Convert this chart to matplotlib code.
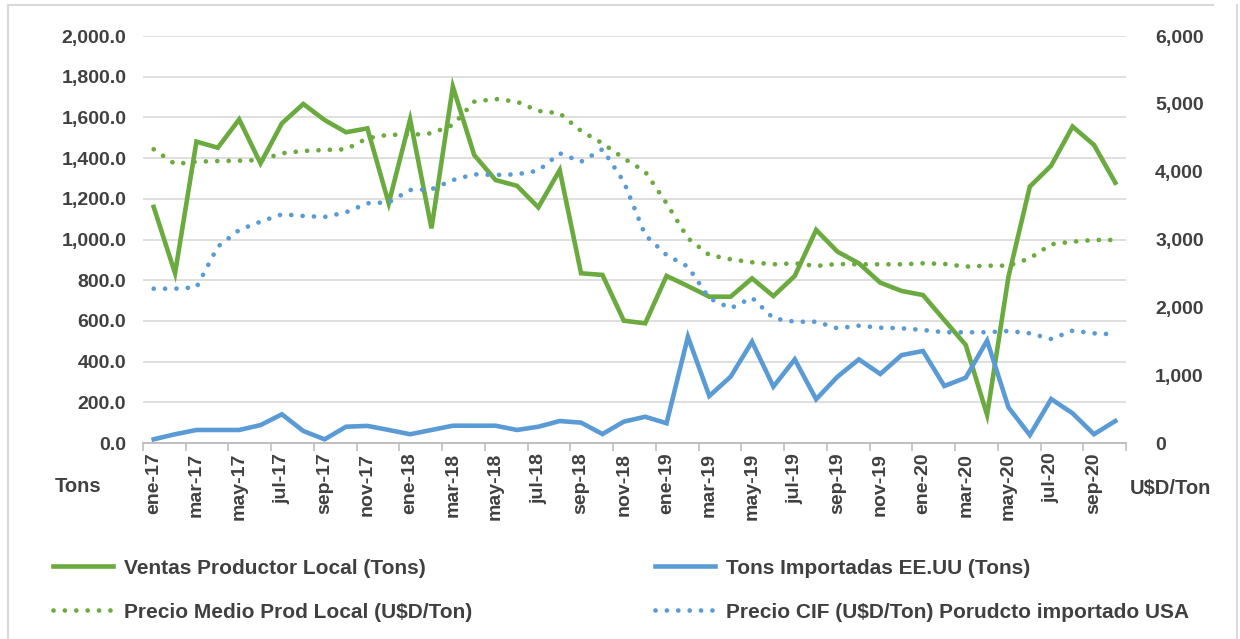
import numpy as np
import matplotlib.pyplot as plt
from matplotlib.lines import Line2D
from matplotlib.ticker import FuncFormatter, FixedLocator

plt.rcParams['font.family'] = ['Liberation Sans', 'DejaVu Sans']

# months ene-17 .. oct-20
meses = ['ene', 'feb', 'mar', 'abr', 'may', 'jun', 'jul', 'ago', 'sep', 'oct', 'nov', 'dic']
fechas = [f"{m}-{a}" for a in ['17', '18', '19', '20'] for m in meses][:46]

# Ventas productor local (Tons), left axis
ventas_local = [1160, 834, 1481, 1451, 1590, 1374, 1571, 1666, 1587, 1527, 1546, 1178,
                1590, 1055, 1751, 1415, 1292, 1264, 1158, 1341, 834, 826, 601, 588,
                821, 771, 719, 719, 809, 722, 821, 1047, 940, 883, 788, 747,
                727, 604, 482, 138, 817, 1260, 1363, 1555, 1465, 1279]

# Tons importadas EE.UU (Tons), left axis
tons_import = [18, 43, 64, 64, 64, 88, 141, 59, 18, 80, 84, 64,
               43, 64, 85, 85, 85, 64, 80, 108, 100, 44, 105, 129,
               97, 522, 231, 326, 498, 277, 411, 215, 326, 411, 339, 432,
               452, 280, 321, 503, 175, 39, 216, 146, 43, 108]

# Precio medio prod local (U$D/Ton), right axis
precio_local = [4330, 4113, 4147, 4157, 4162, 4170, 4271, 4305, 4320, 4330, 4492, 4545,
                4541, 4566, 4688, 5032, 5071, 5032, 4895, 4860, 4600, 4418, 4197, 4000,
                3534, 3018, 2771, 2708, 2664, 2634, 2649, 2610, 2639, 2634, 2634, 2634,
                2649, 2640, 2600, 2614, 2614, 2723, 2929, 2968, 2993, 2993]

# Precio CIF producto importado USA (U$D/Ton), right axis
precio_cif = [2275, 2275, 2295, 2894, 3140, 3263, 3371, 3347, 3332, 3401, 3534, 3548,
              3730, 3740, 3877, 3961, 3951, 3961, 4015, 4271, 4147, 4330, 3852, 3066,
              2771, 2600, 2133, 1986, 2142, 1838, 1788, 1788, 1691, 1730, 1700, 1691,
              1666, 1632, 1632, 1632, 1651, 1617, 1533, 1656, 1617, 1602]

verde = '#6BAA3F'
azul = '#5B9BD5'
gris_txt = '#404040'
x = np.arange(len(fechas))

fig = plt.figure(figsize=(12.4, 6.39), dpi=100)
ax = fig.add_axes([143 / 1240, 1 - 443 / 639, (1126 - 143) / 1240, (443 - 36) / 639])
ax2 = ax.twinx()

dotted = (0, (0.01, 2.4))
l1, = ax.plot(x, ventas_local, color=verde, lw=3.3, solid_joinstyle='miter')
l2, = ax.plot(x, tons_import, color=azul, lw=3.3, solid_joinstyle='miter')
l3, = ax2.plot(x, precio_local, color=verde, lw=3.4, linestyle=dotted, dash_capstyle='round')
l4, = ax2.plot(x, precio_cif, color=azul, lw=3.4, linestyle=dotted, dash_capstyle='round')

ax.set_xlim(-0.5, len(fechas) - 0.5)
ax.set_ylim(0, 2000)
ax2.set_ylim(0, 6000)
ax.set_yticks(np.arange(0, 2001, 200))
ax2.set_yticks(np.arange(0, 6001, 1000))
ax.yaxis.set_major_formatter(FuncFormatter(lambda v, p: f"{v:,.1f}"))
ax2.yaxis.set_major_formatter(FuncFormatter(lambda v, p: f"{v:,.0f}"))
ax.grid(axis='y', color='#d9d9d9', lw=1.2)
ax.set_axisbelow(True)

ax.set_xticks(x[::2])
ax.set_xticklabels(fechas[::2], rotation=90)
ax.xaxis.set_minor_locator(FixedLocator(np.arange(-0.5, len(fechas), 2)))
ax.tick_params(axis='x', which='major', length=0, pad=7)
ax.tick_params(axis='x', which='minor', length=6, color='#bfbfbf', width=1.2)

for a in (ax, ax2):
    for s in ['top', 'left', 'right']:
        a.spines[s].set_visible(False)
    a.spines['bottom'].set_color('#bfbfbf')
    a.spines['bottom'].set_linewidth(1.2)
    a.tick_params(axis='y', length=0)
ax.tick_params(axis='y', pad=12)
ax2.tick_params(axis='y', pad=21)

for lab in ax.get_xticklabels() + ax.get_yticklabels() + ax2.get_yticklabels():
    lab.set_fontsize(14)
    lab.set_fontweight('bold')
    lab.set_color(gris_txt)

fig.text(55 / 1240, 1 - 487 / 639, 'Tons', fontsize=14.5, fontweight='bold',
         color=gris_txt, va='center')
fig.text(1130 / 1240, 1 - 488 / 639, 'U$D/Ton', fontsize=14.5, fontweight='bold',
         color=gris_txt, va='center')

leg_kw = dict(frameon=False, handlelength=2.9, handletextpad=0.5,
              labelspacing=1.2, labelcolor=gris_txt, prop={'weight': 'bold', 'size': 15})
fig.legend([l1, l3], ['Ventas Productor Local (Tons)', 'Precio Medio Prod Local (U$D/Ton)'],
           loc='upper left', bbox_to_anchor=(34 / 1240, 1 - 540 / 639), **leg_kw)
fig.legend([l2, l4], ['Tons Importadas EE.UU (Tons)', 'Precio CIF (U$D/Ton) Porudcto importado USA'],
           loc='upper left', bbox_to_anchor=(636 / 1240, 1 - 540 / 639), **leg_kw)

# light frame of the chart area
fig.add_artist(Line2D([8 / 1240, 8 / 1240], [0, 1 - 5 / 639], color='#d9d9d9', lw=1.5))
fig.add_artist(Line2D([8 / 1240, 1213 / 1240], [1 - 5 / 639, 1 - 5 / 639], color='#d9d9d9', lw=1.5))
fig.add_artist(Line2D([1237 / 1240, 1237 / 1240], [0, 1 - 5 / 639], color='#d9d9d9', lw=1.5))

fig.savefig('out.png', dpi=100)
